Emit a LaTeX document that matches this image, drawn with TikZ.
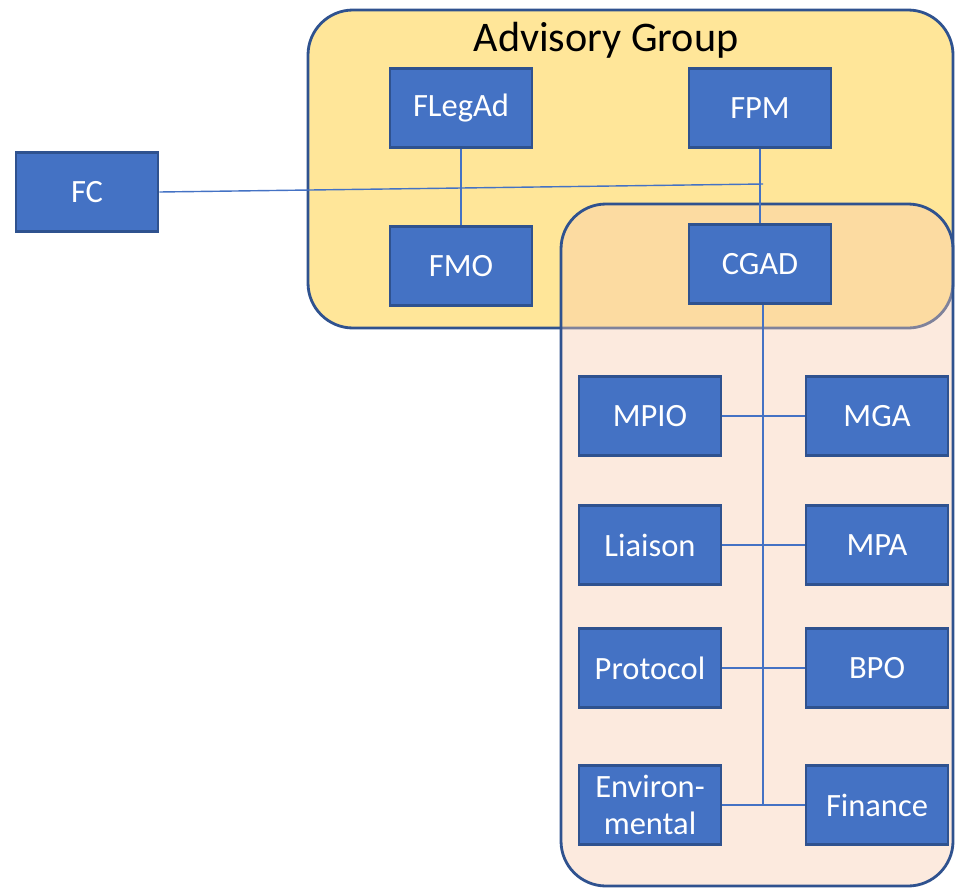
\documentclass[tikz,border=0pt]{standalone}
\usepackage{fontspec}
\setmainfont{Carlito}
\definecolor{unitfill}{HTML}{4472C4}
\definecolor{unitedge}{HTML}{2F528F}
\definecolor{groupfill}{HTML}{FFE699}
\definecolor{officefill}{HTML}{F8CBAD}
\begin{document}
\begin{tikzpicture}[x=0.02cm,y=-0.02cm,
  unit/.style={draw=unitedge,fill=unitfill,line width=1.5pt,text=white,
    minimum width=2.84cm,minimum height=1.58cm,inner sep=1pt,align=center,
    font=\fontsize{18.5}{21}\selectfont},
  group/.style={draw=unitedge,line width=1.6pt,rounded corners=0.9cm},
  link/.style={draw=unitfill,line width=0.8pt}]
\useasboundingbox (0,0) rectangle (955,889);
\draw[group,fill=groupfill] (308,10) rectangle (953,328);
\node[font=\fontsize{24}{27}\selectfont] (title) at (606,40) {Advisory Group};
\draw[group,fill=officefill,fill opacity=0.4] (561,204) rectangle (953,886);
\node[unit] (FLegAd) at (461,108) {FLegAd};
\node[unit] (FPM) at (760,108) {FPM};
\node[unit] (FMO) at (461,266) {FMO};
\node[unit] (CGAD) at (760,264) {CGAD};
\node[unit] (FC) at (87,192) {FC};
\node[unit] (MPIO) at (650,416) {MPIO};
\node[unit] (MGA) at (877,416) {MGA};
\node[unit] (Liaison) at (650,545) {Liaison};
\node[unit] (MPA) at (877,545) {MPA};
\node[unit] (Protocol) at (650,668) {Protocol};
\node[unit] (BPO) at (877,668) {BPO};
\node[unit] (Env) at (650,805) {Environ-\\mental};
\node[unit] (Finance) at (877,805) {Finance};
\coordinate (fcjoin) at (763,184);
\coordinate (hub) at (763,806);
\draw[link] (FLegAd) -- (FMO);
\draw[link] (FPM) -- (CGAD);
\draw[link] (FC.east) -- (fcjoin);
\draw[link] (CGAD.south -| hub) -- (hub);
\draw[link] (MPIO) -- (MGA);
\draw[link] (Liaison) -- (MPA);
\draw[link] (Protocol) -- (BPO);
\draw[link] (Env) -- (Finance);
\end{tikzpicture}
\end{document}
